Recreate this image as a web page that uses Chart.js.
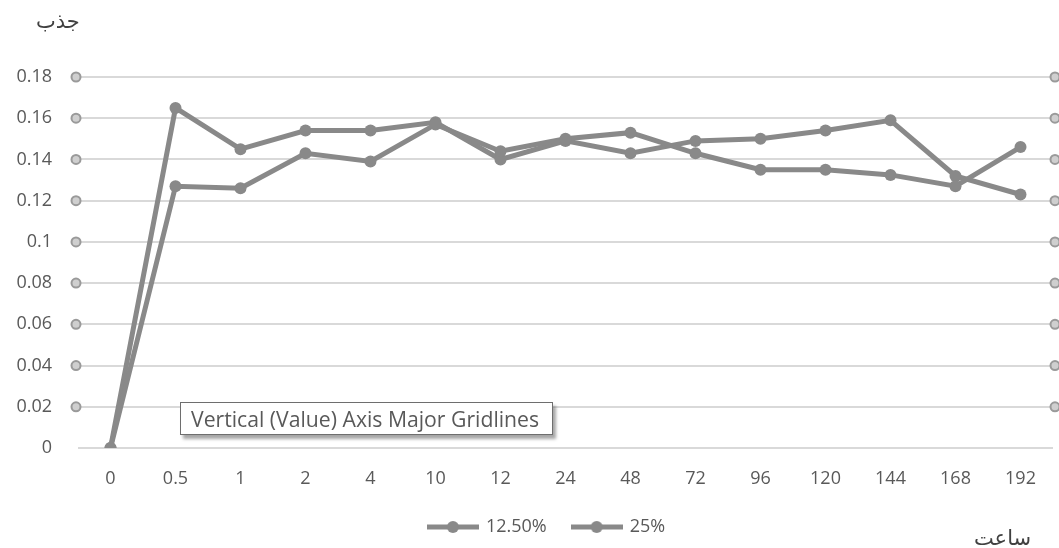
<!DOCTYPE html>
<html lang="fa">

<head>
    <meta charset="UTF-8">
    <title>جذب - ساعت</title>
    <style>
        body { margin: 0; background: #fff; }
        #wrap { position: relative; width: 1059px; height: 548px; }
        .lbl { position: absolute; font-family: "DejaVu Sans", sans-serif; font-size: 21px; color: #404040; }
        #hint {
            position: absolute; left: 180px; top: 402px; width: 373px; height: 33px;
            border: 1px solid #6e6e6e; background: #fff; box-sizing: border-box;
            box-shadow: 3px 4px 3px rgba(0, 0, 0, 0.35);
            font-family: "Open Sans", sans-serif; font-size: 21.2px; color: #595959;
            line-height: 31px; padding-left: 10px; white-space: nowrap;
        }
    </style>
</head>

<body>
    <div id="wrap">
        <canvas id="myChart"></canvas>
        <div class="lbl" style="left:36px;top:9px;">جذب</div>
        <div class="lbl" style="left:974px;top:526px;">ساعت</div>
        <div id="hint">Vertical (Value) Axis Major Gridlines</div>
    </div>

    <script src="https://cdn.jsdelivr.net/npm/chart.js@4.4.0/dist/chart.umd.min.js"></script>
    <script>
        // ساعت
        const hours = ['0', '0.5', '1', '2', '4', '10', '12', '24', '48', '72', '96', '120', '144', '168', '192'];
        // جذب
        const s125 = [0, 0.127, 0.126, 0.143, 0.139, 0.157, 0.144, 0.150, 0.153, 0.143, 0.135, 0.135, 0.1325, 0.127, 0.146];
        const s25 = [0, 0.165, 0.145, 0.154, 0.154, 0.158, 0.140, 0.149, 0.143, 0.149, 0.150, 0.154, 0.159, 0.132, 0.123];
        const yTicks = [0, 0.02, 0.04, 0.06, 0.08, 0.1, 0.12, 0.14, 0.16, 0.18];

        const grey = '#898989';
        const textGrey = '#595959';

        // legend marker: line with a dot
        const mark = document.createElement('canvas');
        mark.width = 52; mark.height = 14;
        const mctx = mark.getContext('2d');
        mctx.strokeStyle = grey; mctx.lineWidth = 5;
        mctx.beginPath(); mctx.moveTo(0, 7); mctx.lineTo(52, 7); mctx.stroke();
        mctx.fillStyle = grey;
        mctx.beginPath(); mctx.arc(26, 7, 6, 0, Math.PI * 2); mctx.fill();

        // small rings at both ends of each gridline
        const endDots = {
            id: 'endDots',
            beforeDatasetsDraw(chart) {
                const c = chart.ctx, a = chart.chartArea, y = chart.scales.y;
                c.save();
                c.strokeStyle = '#9a9a9a'; c.fillStyle = '#cfcfcf'; c.lineWidth = 2;
                yTicks.forEach(v => {
                    if (v === 0) return;
                    const py = y.getPixelForValue(v);
                    [a.left - 2, a.right + 2].forEach(px => {
                        c.beginPath(); c.arc(px, py, 4.5, 0, Math.PI * 2); c.fill(); c.stroke();
                    });
                });
                c.restore();
            }
        };

        // legend sits a little right of centre in the original
        const legendShift = {
            id: 'legendShift',
            afterLayout(chart) {
                chart.legend.left += 19;
                chart.legend.right += 19;
            }
        };

        const ctx = document.getElementById('myChart').getContext('2d');
        const myChart = new Chart(ctx, {
            type: 'line',
            data: {
                labels: hours,
                datasets: [
                    {
                        label: '12.50%',
                        data: s125,
                        borderColor: grey,
                        backgroundColor: grey,
                        borderWidth: 5,
                        pointRadius: 6,
                        pointBorderWidth: 0,
                        tension: 0
                    },
                    {
                        label: '25%',
                        data: s25,
                        borderColor: grey,
                        backgroundColor: grey,
                        borderWidth: 5,
                        pointRadius: 6,
                        pointBorderWidth: 0,
                        tension: 0
                    }
                ]
            },
            options: {
                responsive: true,
                maintainAspectRatio: false,
                animation: false,
                layout: { padding: { top: 77, right: 3, bottom: 2, left: 0 } },
                scales: {
                    x: {
                        offset: true,
                        grid: { display: false, drawTicks: false },
                        border: { display: false },
                        ticks: { color: textGrey, font: { family: 'Open Sans', size: 18 }, padding: 20, maxRotation: 0 },
                        afterFit(s) { s.height = 44; }
                    },
                    y: {
                        min: 0,
                        max: 0.18,
                        afterBuildTicks(s) { s.ticks = yTicks.map(v => ({ value: v })); },
                        grid: { color: '#d9d9d9', lineWidth: 2, drawTicks: false },
                        border: { display: false },
                        ticks: {
                            color: textGrey, font: { family: 'Open Sans', size: 18 }, padding: 26,
                            callback: v => String(+v.toFixed(2))
                        },
                        afterFit(s) { s.width = 78; }
                    }
                },
                plugins: {
                    legend: {
                        position: 'bottom',
                        labels: {
                            usePointStyle: true,
                            pointStyle: mark,
                            pointStyleWidth: 48,
                            boxHeight: 12,
                            padding: 26,
                            color: textGrey,
                            font: { family: 'Open Sans', size: 18 }
                        }
                    },
                    tooltip: { enabled: false }
                }
            },
            plugins: [endDots, legendShift]
        });
    </script>
</body>

</html>
